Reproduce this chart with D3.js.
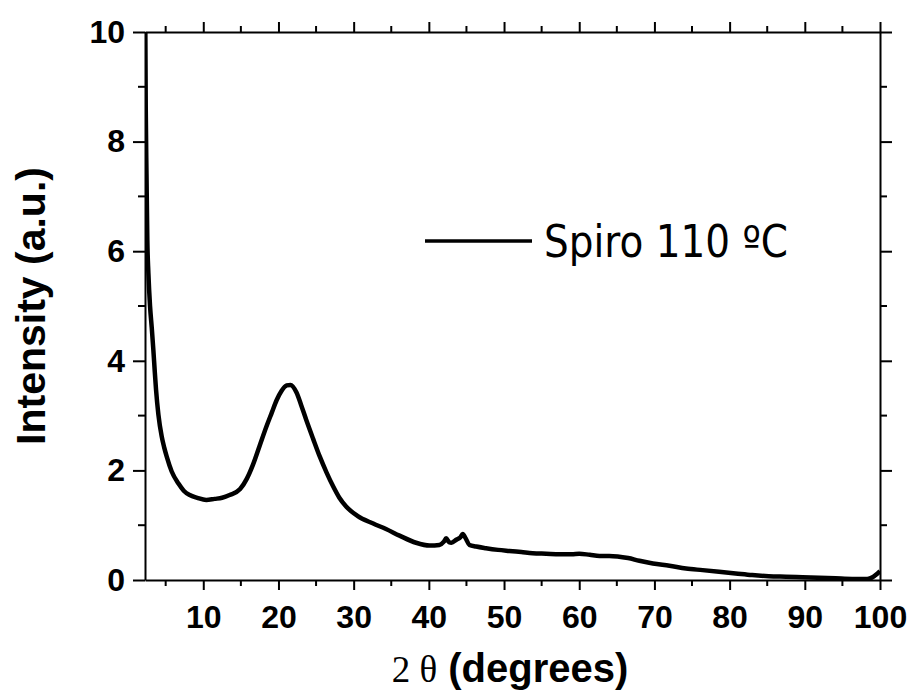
<!DOCTYPE html>
<html>
<head>
<meta charset="utf-8">
<script src="https://cdn.jsdelivr.net/npm/d3@7"></script>
<style>
  html, body { margin: 0; padding: 0; background: #fff; }
  svg { display: block; }
  .axis .domain { stroke: #000; stroke-width: 2; }
  .axis line { stroke: #000; stroke-width: 2; }
  .axis text {
    font-family: "Liberation Sans", Arial, sans-serif;
    font-weight: bold;
    font-size: 32px;
    fill: #000;
  }
</style>
</head>
<body>
<div id="chart"></div>
<script>
// XRD scan
const theta = [
  2.28, 2.35, 2.45, 2.56, 2.7, 2.92, 3.15, 3.36, 3.55, 3.72, 4.03, 4.47, 4.8,
  5.14, 5.8, 6.7, 7.4, 8.2, 9.2, 10.4, 11.5, 12.5, 13.5, 14.9, 15.8, 16.6, 17.5,
  18.4, 19.1, 19.75, 20.4, 21.1, 21.6, 22.4, 23.0, 23.7, 24.6, 25.5, 26.4, 27.3,
  28.1, 29.0, 30.5, 32.6, 34.3, 36.1, 38.3, 40.1, 41.4, 42.0, 42.3, 42.7, 43.0,
  43.7, 44.2, 44.5, 44.9, 45.4, 46.3, 47.6, 49.2, 50.7, 52.3, 53.8, 55.6, 57.4,
  59.0, 60.0, 61.4, 62.7, 64.0, 65.1, 66.5, 68.0, 69.8, 72.0, 74.2, 76.4, 78.6,
  80.8, 83.0, 85.2, 87.5, 89.7, 91.9, 94.1, 96.3, 97.5, 98.3, 99.0, 99.5, 100,
];
const intensity = [
  10.4, 8.6, 7.4, 6.2, 5.6, 5.0, 4.6, 4.2, 3.8, 3.47, 3.02, 2.62, 2.42,
  2.25, 1.98, 1.76, 1.63, 1.55, 1.5, 1.46, 1.48, 1.5, 1.55, 1.66, 1.85, 2.1, 2.45,
  2.8, 3.05, 3.28, 3.45, 3.55, 3.56, 3.42, 3.2, 2.92, 2.58, 2.25, 1.96, 1.7,
  1.5, 1.34, 1.17, 1.03, 0.93, 0.81, 0.68, 0.63, 0.64, 0.7, 0.76, 0.69, 0.68,
  0.74, 0.78, 0.84, 0.76, 0.64, 0.61, 0.58, 0.55, 0.53, 0.51, 0.49, 0.48, 0.47,
  0.47, 0.48, 0.46, 0.44, 0.44, 0.43, 0.4, 0.35, 0.3, 0.26, 0.21, 0.18, 0.15,
  0.12, 0.09, 0.07, 0.06, 0.05, 0.04, 0.03, 0.02, 0.02, 0.02, 0.05, 0.1, 0.16,
];
const xMajorTicks = [10, 20, 30, 40, 50, 60, 70, 80, 90, 100];
const xMinorTicks = [5, 15, 25, 35, 45, 55, 65, 75, 85, 95];
const yMajorTicks = [0, 2, 4, 6, 8, 10];
const yMinorTicks = [1, 3, 5, 7, 9];
const seriesName = "Spiro 110 ºC";

function renderXrdChart(id) {
  const width = 914;
  const height = 692;
  const margin = { top: 32, right: 34, bottom: 112, left: 145 };

  const x = d3
    .scaleLinear()
    .domain([2.25, 100])
    .range([margin.left, width - margin.right]);
  const y = d3
    .scaleLinear()
    .domain([0, 10])
    .range([height - margin.bottom, margin.top]);

  const line = d3
    .line()
    .curve(d3.curveMonotoneX)
    .x((d) => x(d[0]))
    .y((d) => y(d[1]));

  const svg = d3
    .select(`#${id}`)
    .append("svg")
    .attr("width", width)
    .attr("height", height)
    .attr("viewBox", [0, 0, width, height]);

  svg
    .append("clipPath")
    .attr("id", "plot-clip")
    .append("rect")
    .attr("x", x.range()[0])
    .attr("y", y.range()[1])
    .attr("width", x.range()[1] - x.range()[0])
    .attr("height", y.range()[0] - y.range()[1]);

  // data line first so the frame sits on top of it
  svg
    .append("path")
    .datum(theta.map((t, i) => [t, intensity[i]]))
    .attr("clip-path", "url(#plot-clip)")
    .attr("fill", "none")
    .attr("stroke", "#000")
    .attr("stroke-width", 4.5)
    .attr("stroke-linejoin", "round")
    .attr("d", line);

  const bottomY = y(0);
  const topY = y(10);
  const leftX = x.range()[0];
  const rightX = x.range()[1];

  // bottom axis: labelled majors + minors
  svg
    .append("g")
    .attr("class", "axis axis-x")
    .attr("transform", `translate(0,${bottomY})`)
    .call(
      d3.axisBottom(x).tickValues(xMajorTicks).tickSize(10).tickSizeOuter(0).tickPadding(15)
    )
    .call((g) =>
      g
        .selectAll(".minor")
        .data(xMinorTicks)
        .join("line")
        .attr("class", "minor")
        .attr("x1", (d) => x(d))
        .attr("x2", (d) => x(d))
        .attr("y2", 6)
    );

  // top axis, ticks outward, no labels
  svg
    .append("g")
    .attr("class", "axis axis-x2")
    .attr("transform", `translate(0,${topY})`)
    .call(
      d3.axisTop(x).tickValues(xMajorTicks).tickSize(10).tickSizeOuter(0).tickFormat("")
    )
    .call((g) =>
      g
        .selectAll(".minor")
        .data(xMinorTicks)
        .join("line")
        .attr("class", "minor")
        .attr("x1", (d) => x(d))
        .attr("x2", (d) => x(d))
        .attr("y2", -6)
    );

  svg
    .append("g")
    .attr("class", "axis axis-y")
    .attr("transform", `translate(${leftX},0)`)
    .call(
      d3.axisLeft(y).tickValues(yMajorTicks).tickSize(12).tickSizeOuter(0).tickPadding(8)
    )
    .call((g) =>
      g
        .selectAll(".minor")
        .data(yMinorTicks)
        .join("line")
        .attr("class", "minor")
        .attr("y1", (d) => y(d))
        .attr("y2", (d) => y(d))
        .attr("x2", -7)
    );

  svg
    .append("g")
    .attr("class", "axis axis-y2")
    .attr("transform", `translate(${rightX},0)`)
    .call(
      d3.axisRight(y).tickValues(yMajorTicks).tickSize(12).tickSizeOuter(0).tickFormat("")
    )
    .call((g) =>
      g
        .selectAll(".minor")
        .data(yMinorTicks)
        .join("line")
        .attr("class", "minor")
        .attr("y1", (d) => y(d))
        .attr("y2", (d) => y(d))
        .attr("x2", 7)
    );

  // axis titles
  const xTitle = svg
    .append("text")
    .attr("x", 510)
    .attr("y", 682)
    .attr("text-anchor", "middle")
    .attr("fill", "#000");
  xTitle
    .append("tspan")
    .attr("font-family", '"Liberation Serif", "Times New Roman", serif')
    .attr("font-size", 37)
    .text("2 θ");
  xTitle
    .append("tspan")
    .attr("font-family", '"Liberation Sans", Arial, sans-serif')
    .attr("font-weight", "bold")
    .attr("font-size", 40)
    .text(" (degrees)");

  svg
    .append("text")
    .attr("transform", `translate(45,${(topY + bottomY) / 2}) rotate(-90)`)
    .attr("text-anchor", "middle")
    .attr("font-family", '"Liberation Sans", Arial, sans-serif')
    .attr("font-weight", "bold")
    .attr("font-size", 41)
    .attr("fill", "#000")
    .text("Intensity (a.u.)");

  // legend
  const legend = svg.append("g").attr("class", "legend");
  legend
    .append("line")
    .attr("x1", 425)
    .attr("x2", 532)
    .attr("y1", 241)
    .attr("y2", 241)
    .attr("stroke", "#000")
    .attr("stroke-width", 3.5);
  legend
    .append("text")
    .attr("x", 544)
    .attr("y", 257)
    .attr("font-family", '"DejaVu Sans", Verdana, sans-serif')
    .attr("font-size", 44)
    .attr("textLength", 244)
    .attr("lengthAdjust", "spacingAndGlyphs")
    .attr("fill", "#000")
    .text(seriesName);
}

renderXrdChart("chart");
</script>
</body>
</html>
